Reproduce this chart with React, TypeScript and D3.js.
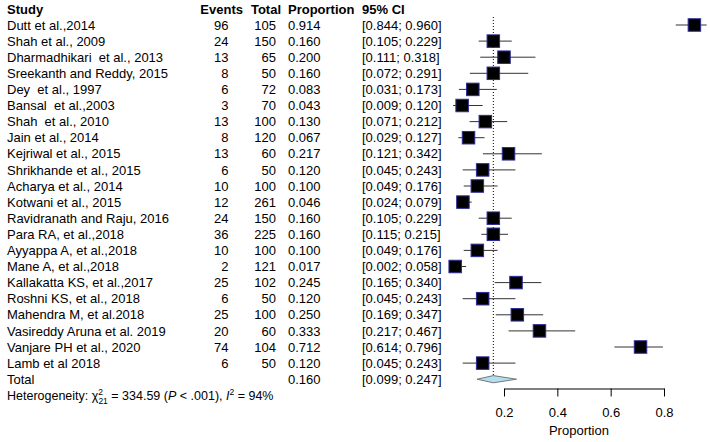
import React, { useEffect, useRef } from "react";
import * as d3 from "d3";

const studies = [
  "Dutt et al.,2014",
  "Shah et al., 2009",
  "Dharmadhikari  et al., 2013",
  "Sreekanth and Reddy, 2015",
  "Dey  et al., 1997",
  "Bansal  et al.,2003",
  "Shah  et al., 2010",
  "Jain et al., 2014",
  "Kejriwal et al., 2015",
  "Shrikhande et al., 2015",
  "Acharya et al., 2014",
  "Kotwani et al., 2015",
  "Ravidranath and Raju, 2016",
  "Para RA, et al.,2018",
  "Ayyappa A, et al.,2018",
  "Mane A, et al.,2018",
  "Kallakatta KS, et al.,2017",
  "Roshni KS, et al., 2018",
  "Mahendra M, et al.2018",
  "Vasireddy Aruna et al. 2019",
  "Vanjare PH et al., 2020",
  "Lamb et al 2018",
];
const events = [96, 24, 13, 8, 6, 3, 13, 8, 13, 6, 10, 12, 24, 36, 10, 2, 25, 6, 25, 20, 74, 6];
const totals = [105, 150, 65, 50, 72, 70, 100, 120, 60, 50, 100, 261, 150, 225, 100, 121, 102, 50, 100, 60, 104, 50];
const proportions = [0.914, 0.16, 0.2, 0.16, 0.083, 0.043, 0.13, 0.067, 0.217, 0.12, 0.1, 0.046, 0.16, 0.16, 0.1, 0.017, 0.245, 0.12, 0.25, 0.333, 0.712, 0.12];
const ciLower = [0.844, 0.105, 0.111, 0.072, 0.031, 0.009, 0.071, 0.029, 0.121, 0.045, 0.049, 0.024, 0.105, 0.115, 0.049, 0.002, 0.165, 0.045, 0.169, 0.217, 0.614, 0.045];
const ciUpper = [0.96, 0.229, 0.318, 0.291, 0.173, 0.12, 0.212, 0.127, 0.342, 0.243, 0.176, 0.079, 0.229, 0.215, 0.176, 0.058, 0.34, 0.243, 0.347, 0.467, 0.796, 0.243];

const pooled = [0.16];
const pooledLower = [0.099];
const pooledUpper = [0.247];
const axisTicks = [0.2, 0.4, 0.6, 0.8];
const headers = ["Study", "Events", "Total", "Proportion", "95% CI"];

const FONT = "'Liberation Sans', Arial, sans-serif";
const f3 = d3.format(".3f");

export default function App() {
  const axisRef = useRef<SVGGElement>(null);

  const x = d3.scaleLinear().domain([0.2, 0.8]).range([504, 664]);
  const y = d3.scaleLinear().domain([0, 22]).range([25, 379.2]);
  const sq = 12.5;
  const axisY = 388.5;

  useEffect(() => {
    if (!axisRef.current) return;
    const g = d3.select(axisRef.current);
    g.selectAll("*").remove();
    g.call(
      d3
        .axisBottom(x)
        .tickValues(axisTicks)
        .tickSize(8)
        .tickSizeOuter(0)
        .tickPadding(11)
        .tickFormat(d3.format(".1f") as any)
    );
    g.selectAll("text").attr("font-size", 13).attr("font-family", FONT).attr("fill", "#000");
    g.selectAll("line,path").attr("stroke", "#000");
    g.attr("font-family", FONT);
  }, []);

  const base = (i: number) => y(i) + 4.6;
  const xMin = d3.min(ciLower) as number;
  const xMax = d3.max(ciUpper) as number;

  return (
    <svg
      width={710}
      height={442}
      style={{ position: "absolute", left: 0, top: 0, background: "#fff" }}
      fontFamily={FONT}
      fontSize={13}
    >
      <rect width={710} height={442} fill="#fff" />
      {/* headers */}
      <g fontWeight="bold" fill="#000">
        <text x={7} y={base(-1)}>{headers[0]}</text>
        <text x={243} y={base(-1)} textAnchor="end">{headers[1]}</text>
        <text x={281} y={base(-1)} textAnchor="end">{headers[2]}</text>
        <text x={288} y={base(-1)}>{headers[3]}</text>
        <text x={362} y={base(-1)}>{headers[4]}</text>
      </g>
      {/* rows */}
      {studies.map((s, i) => (
        <g key={i} fill="#000">
          <text x={7} y={base(i)} style={{ whiteSpace: "pre" }}>{s}</text>
          <text x={228.5} y={base(i)} textAnchor="end">{events[i]}</text>
          <text x={276} y={base(i)} textAnchor="end">{totals[i]}</text>
          <text x={288} y={base(i)}>{f3(proportions[i])}</text>
          <text x={362} y={base(i)}>{`[${f3(ciLower[i])}; ${f3(ciUpper[i])}]`}</text>
        </g>
      ))}
      {/* total row */}
      <g fill="#000">
        <text x={7} y={base(22)}>Total</text>
        <text x={288} y={base(22)}>{f3(pooled[0])}</text>
        <text x={362} y={base(22)}>{`[${f3(pooledLower[0])}; ${f3(pooledUpper[0])}]`}</text>
      </g>
      {/* heterogeneity */}
      <text x={7} y={base(23)} fontSize={12.5} fill="#000" style={{ whiteSpace: "pre" }}>
        <tspan>Heterogeneity: χ</tspan>
        <tspan fontSize={8.5} dy={-5}>2</tspan>
        <tspan fontSize={8.5} dx={-4.7} dy={9}>21</tspan>
        <tspan dy={-4}> = 334.59 (</tspan>
        <tspan fontStyle="italic">P</tspan>
        <tspan>{" < .001), "}</tspan>
        <tspan fontStyle="italic">I</tspan>
        <tspan fontSize={8.5} dy={-5}>2</tspan>
        <tspan dy={5}> = 94%</tspan>
      </text>
      {/* reference dotted line */}
      <line
        x1={x(pooled[0])}
        x2={x(pooled[0])}
        y1={y(0) - 8}
        y2={y(22) - 4}
        stroke="#000"
        strokeWidth={1}
        strokeDasharray="1,2"
      />
      {/* CI lines and squares */}
      {studies.map((_, i) => (
        <g key={"m" + i}>
          <line
            x1={x(ciLower[i])}
            x2={x(ciUpper[i])}
            y1={y(i)}
            y2={y(i)}
            stroke="#333"
            strokeWidth={1}
          />
          <rect
            x={x(proportions[i]) - sq / 2}
            y={y(i) - sq / 2}
            width={sq}
            height={sq}
            fill="#000"
            stroke="#2b2b9a"
            strokeWidth={1}
          />
        </g>
      ))}
      {/* diamond */}
      <path
        d={`M${x(pooledLower[0])},${y(22)} L${x(pooled[0])},${y(22) - 3.6} L${x(pooledUpper[0])},${y(22)} L${x(pooled[0])},${y(22) + 3.6} Z`}
        fill="#b3def0"
        stroke="#777"
        strokeWidth={1}
      />
      {/* axis */}
      <g ref={axisRef} transform={`translate(0,${axisY})`} />
      <text x={x((xMin + xMax) / 2)} y={434.5} textAnchor="middle" fill="#000">
        Proportion
      </text>
    </svg>
  );
}
